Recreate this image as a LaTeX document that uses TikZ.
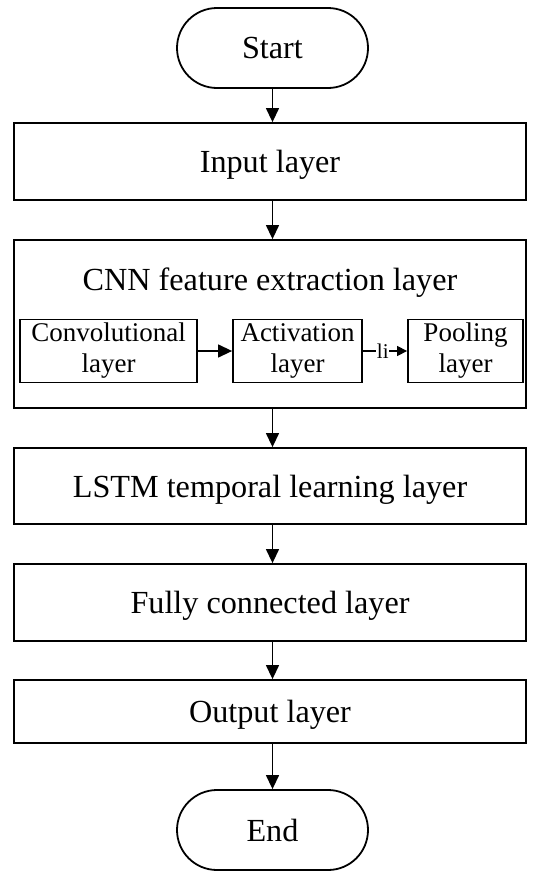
\documentclass[tikz,border=0pt]{standalone}
\usepackage{fontspec}
\setmainfont{Liberation Serif}
\usetikzlibrary{arrows.meta,shapes.misc}
\begin{document}
\begin{tikzpicture}[x=1pt,y=-1pt,
  big/.style={font=\fontsize{32.2}{37}\selectfont,text depth=0pt},
  box/.style={draw,line width=1.8pt,minimum width=512pt,inner sep=0pt,big},
  inbox/.style={draw,line width=1.8pt,inner sep=0pt,align=center,font=\fontsize{27}{31}\selectfont},
  term/.style={draw,line width=1.8pt,rounded rectangle,minimum width=191pt,minimum height=80pt,inner sep=0pt,big},
  arr/.style={line width=1.3pt,-{Triangle[length=14pt,width=13pt]}}]
\useasboundingbox (0,0) rectangle (550,878);
\node[term] (start) at (272.5,48) {Start};
\node[box,minimum height=77pt] (input) at (270,161.5) {Input layer};
\node[box,minimum height=168pt] (cnn) at (270,324) {};
\node[big] (cnnt) at (270,279) {CNN feature extraction layer};
\node[inbox,minimum width=177pt,minimum height=63pt] (conv) at (108.5,351) {Convolutional\\layer};
\node[inbox,minimum width=129pt,minimum height=63pt] (act) at (297.5,351) {Activation\\layer};
\node[inbox,minimum width=115pt,minimum height=63pt] (pool) at (465.5,351) {Pooling\\layer};
\node[box,minimum height=76pt] (lstm) at (270,486) {LSTM temporal learning layer};
\node[box,minimum height=77pt] (fc) at (270,602.5) {Fully connected layer};
\node[box,minimum height=63pt] (out) at (270,711.5) {Output layer};
\node[term] (end) at (272.5,830) {End};
\draw[arr] (start.south) -- (start.south |- input.north);
\draw[arr] (start.south |- input.south) -- (start.south |- cnn.north);
\draw[arr] (start.south |- cnn.south) -- (start.south |- lstm.north);
\draw[arr] (start.south |- lstm.south) -- (start.south |- fc.north);
\draw[arr] (start.south |- fc.south) -- (start.south |- out.north);
\draw[arr] (start.south |- out.south) -- (end.north);
\draw[arr] (conv.east) -- (act.west);
\draw[line width=1.3pt,-{Triangle[length=10pt,width=10pt]}] (act.east) -- (pool.west)
  node[pos=0.45,fill=white,inner sep=0.5pt,font=\fontsize{21}{24}\selectfont] (li) {li};
\end{tikzpicture}
\end{document}
